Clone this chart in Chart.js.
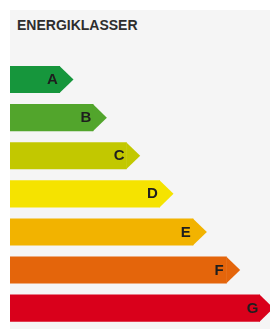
<!DOCTYPE html>
<html>
<head>
<meta charset="utf-8">
<script src="https://cdn.jsdelivr.net/npm/chart.js@4"></script>
<style>
  html, body { margin: 0; padding: 0; background: #ffffff; width: 270px; height: 329px; overflow: hidden; }
  #panel { position: absolute; left: 10px; top: 10px; width: 260px; height: 319px; background: #f5f5f5; }
  #title { position: absolute; left: 17px; top: 18px; font: bold 14px "Liberation Sans", Arial, sans-serif; line-height: 14px; color: #2e2e2e; white-space: nowrap; }
  #wrap { position: absolute; left: 0; top: 0; width: 270px; height: 329px; }
</style>
</head>
<body>
<div id="panel"></div>
<div id="title">ENERGIKLASSER</div>
<div id="wrap"><canvas id="c" width="270" height="329"></canvas></div>
<script>
const categories = ['A', 'B', 'C', 'D', 'E', 'F', 'G'];
const values = [1.5, 2.5, 3.5, 4.5, 5.5, 6.5, 7.5];
const colors = ['#16963c', '#52a52c', '#c2c800', '#f5e300', '#f2b300', '#e4650b', '#d9001b'];

const arrowPlugin = {
  id: 'arrows',
  afterDatasetsDraw(chart) {
    const ctx = chart.ctx;
    const meta = chart.getDatasetMeta(0);
    meta.data.forEach((bar, i) => {
      const h = bar.height;
      const x = bar.x, y = bar.y;
      ctx.save();
      ctx.fillStyle = colors[i];
      ctx.beginPath();
      ctx.moveTo(x - 0.5, y - h / 2);
      ctx.lineTo(x + h / 2, y);
      ctx.lineTo(x - 0.5, y + h / 2);
      ctx.closePath();
      ctx.fill();
      ctx.fillStyle = '#1e1e1e';
      ctx.font = 'bold 15px "Liberation Sans", Arial, sans-serif';
      ctx.textAlign = 'center';
      ctx.textBaseline = 'middle';
      ctx.fillText(categories[i], x - 7.5, y + 0.5);
      ctx.restore();
    });
  }
};

new Chart(document.getElementById('c'), {
  type: 'bar',
  data: {
    labels: categories,
    datasets: [{
      data: values,
      backgroundColor: colors,
      borderWidth: 0,
      barPercentage: 0.71,
      categoryPercentage: 1
    }]
  },
  options: {
    indexAxis: 'y',
    responsive: false,
    animation: false,
    layout: { padding: { left: 10, right: 0, top: 60.5, bottom: 1.8 } },
    plugins: { legend: { display: false }, tooltip: { enabled: false }, title: { display: false } },
    scales: {
      x: { display: false, min: 0, max: 7.8 },
      y: { display: false }
    }
  },
  plugins: [arrowPlugin]
});
</script>
</body>
</html>
